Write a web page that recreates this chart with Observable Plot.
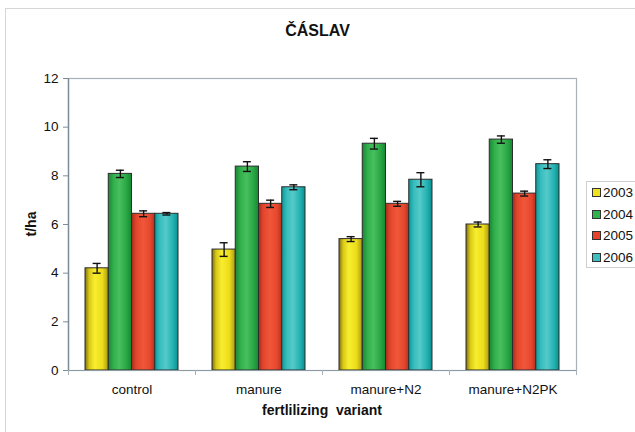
<!DOCTYPE html>
<html>
<head>
<meta charset="utf-8">
<script src="https://cdn.jsdelivr.net/npm/d3@7"></script>
<script src="https://cdn.jsdelivr.net/npm/@observablehq/plot@0.6"></script>
<style>
  html, body { margin: 0; padding: 0; background: #fff; overflow: hidden; }
  #wrap { position: relative; width: 635px; height: 432px; overflow: hidden; font-family: "Liberation Sans", Arial, sans-serif; }
  #outer { position: absolute; left: 5px; top: 8px; width: 700px; height: 500px; border: 1.5px solid #d6d6d6; box-sizing: border-box; }
  #title { position: absolute; left: 0; width: 635px; top: 22px; text-align: center; font-weight: bold; font-size: 16px; color: #111; }
  #xlab { position: absolute; left: 68px; width: 508px; top: 402px; text-align: center; font-weight: bold; font-size: 14px; white-space: pre; color: #111; }
  #ylab { position: absolute; left: 31px; top: 224px; transform: translate(-50%, -50%) rotate(-90deg); font-weight: bold; font-size: 14px; color: #111; }
  #legend { position: absolute; left: 586px; top: 181px; width: 70px; height: 87px; border: 1px solid #cfcfcf; box-sizing: border-box; font-size: 13.5px; color: #111; }
  #legend .row { position: absolute; left: 5px; height: 16px; line-height: 16px; }
  #legend .sw { display: inline-block; width: 7px; height: 7px; border: 1px solid #333; margin-right: 2px; vertical-align: 0px; }
  #chart { position: absolute; left: 0; top: 0; }
  #chart svg [aria-label="y-axis tick"] { stroke: #7d8c96; }
</style>
</head>
<body>
<div id="wrap">
  <div id="outer"></div>
  <div id="chart"></div>
  <div id="title">ČÁSLAV</div>
  <div id="ylab">t/ha</div>
  <div id="xlab">fertlilizing  variant</div>
  <div id="legend"></div>
</div>
<script>
const variants = ["control", "manure", "manure+N2", "manure+N2PK"];
const years = ["2003", "2004", "2005", "2006"];
const v2003 = [4.2, 4.97, 5.4, 6.0];
const v2004 = [8.08, 8.38, 9.32, 9.49];
const v2005 = [6.44, 6.85, 6.85, 7.27];
const v2006 = [6.44, 7.53, 7.84, 8.48];
const e2003 = [0.2, 0.28, 0.1, 0.1];
const e2004 = [0.15, 0.2, 0.22, 0.15];
const e2005 = [0.12, 0.15, 0.1, 0.1];
const e2006 = [0.05, 0.1, 0.29, 0.18];
const yTicks = [0, 2, 4, 6, 8, 10, 12];

const values = [v2003, v2004, v2005, v2006];
const errors = [e2003, e2004, e2005, e2006];
const swatch = ["#efe020", "#2fb24b", "#e8432b", "#3cbfbf"];
const gradStops = [
  [["0%", "#7e7014"], ["18%", "#d9c816"], ["42%", "#f8ee2e"], ["75%", "#ecdc1a"], ["100%", "#a99a16"]],
  [["0%", "#1c8436"], ["22%", "#30af4a"], ["48%", "#48bf5e"], ["78%", "#2aa845"], ["100%", "#168634"]],
  [["0%", "#a42d1c"], ["20%", "#e3452c"], ["50%", "#f0573a"], ["80%", "#e6472d"], ["100%", "#b3331f"]],
  [["0%", "#0e9898"], ["22%", "#38bdbd"], ["48%", "#55caca"], ["80%", "#22b0b0"], ["100%", "#0a8e8e"]]
];

const data = years.map((yr, i) => variants.map((v, j) => ({
  variant: v, year: yr, value: values[i][j], err: errors[i][j]
})));

const W = 635, H = 432, mL = 68, mR = 59, mT = 78, mB = 62;
const step = (W - mL - mR) / variants.length;
const groupPad = 17;
const barW = (step - 2 * groupPad) / years.length;
const capHalf = 4;

const marks = [];
marks.push(Plot.frame({stroke: "#a7b1b7", strokeWidth: 1.2}));
years.forEach((yr, i) => {
  const left = groupPad + i * barW;
  const center = left + barW / 2;
  marks.push(Plot.barY(data[i], {
    x: "variant", y: "value",
    fill: `url(#grad${yr})`, stroke: "#2d2d2d", strokeWidth: 1,
    insetLeft: left, insetRight: step - left - barW
  }));
  marks.push(Plot.ruleX(data[i], {
    x: "variant", y1: d => d.value - d.err, y2: d => d.value + d.err,
    dx: center - step / 2, stroke: "#111", strokeWidth: 1.4
  }));
  for (const sgn of [-1, 1]) {
    marks.push(Plot.tickY(data[i], {
      x: "variant", y: d => d.value + sgn * d.err,
      insetLeft: center - capHalf, insetRight: step - center - capHalf,
      stroke: "#111", strokeWidth: 1.4
    }));
  }
});
marks.push(Plot.ruleY([0], {stroke: "#8e9aa2", strokeWidth: 1.2}));
marks.push(Plot.ruleX([variants[0]], {x: d => d, dx: -step / 2, stroke: "#7d8c96", strokeWidth: 1.4}));
marks.push(Plot.ruleX(variants, {x: d => d, dx: -step / 2, y1: 0, y2: 0, insetBottom: -5, stroke: "#a7b1b7"}));
marks.push(Plot.ruleX(variants.slice(-1), {x: d => d, dx: step / 2, y1: 0, y2: 0, insetBottom: -5, stroke: "#a7b1b7"}));

const chart = Plot.plot({
  width: W, height: H,
  marginLeft: mL, marginRight: mR, marginTop: mT, marginBottom: mB,
  style: {fontFamily: "'Liberation Sans', Arial, sans-serif", fontSize: "13.5px", background: "transparent", color: "#111"},
  x: {domain: variants, padding: 0, tickSize: 0, tickPadding: 14, label: null},
  y: {domain: [0, 12], ticks: yTicks, tickSize: 5, tickPadding: 5, label: null},
  marks
});

// gradient defs for the bars
const svg = d3.select(chart.tagName.toLowerCase() === "svg" ? chart : chart.querySelector("svg"));
const defs = svg.insert("defs", ":first-child");
years.forEach((yr, i) => {
  const g = defs.append("linearGradient").attr("id", `grad${yr}`)
    .attr("x1", "0%").attr("x2", "100%").attr("y1", "0%").attr("y2", "0%");
  gradStops[i].forEach(([o, c]) => g.append("stop").attr("offset", o).attr("stop-color", c));
});

document.getElementById("chart").appendChild(chart);

// legend
const leg = document.getElementById("legend");
years.forEach((yr, i) => {
  const row = document.createElement("div");
  row.className = "row";
  row.style.top = (3 + i * 21.7) + "px";
  const sw = document.createElement("span");
  sw.className = "sw";
  sw.style.background = swatch[i];
  row.appendChild(sw);
  row.appendChild(document.createTextNode(yr));
  leg.appendChild(row);
});
</script>
</body>
</html>
